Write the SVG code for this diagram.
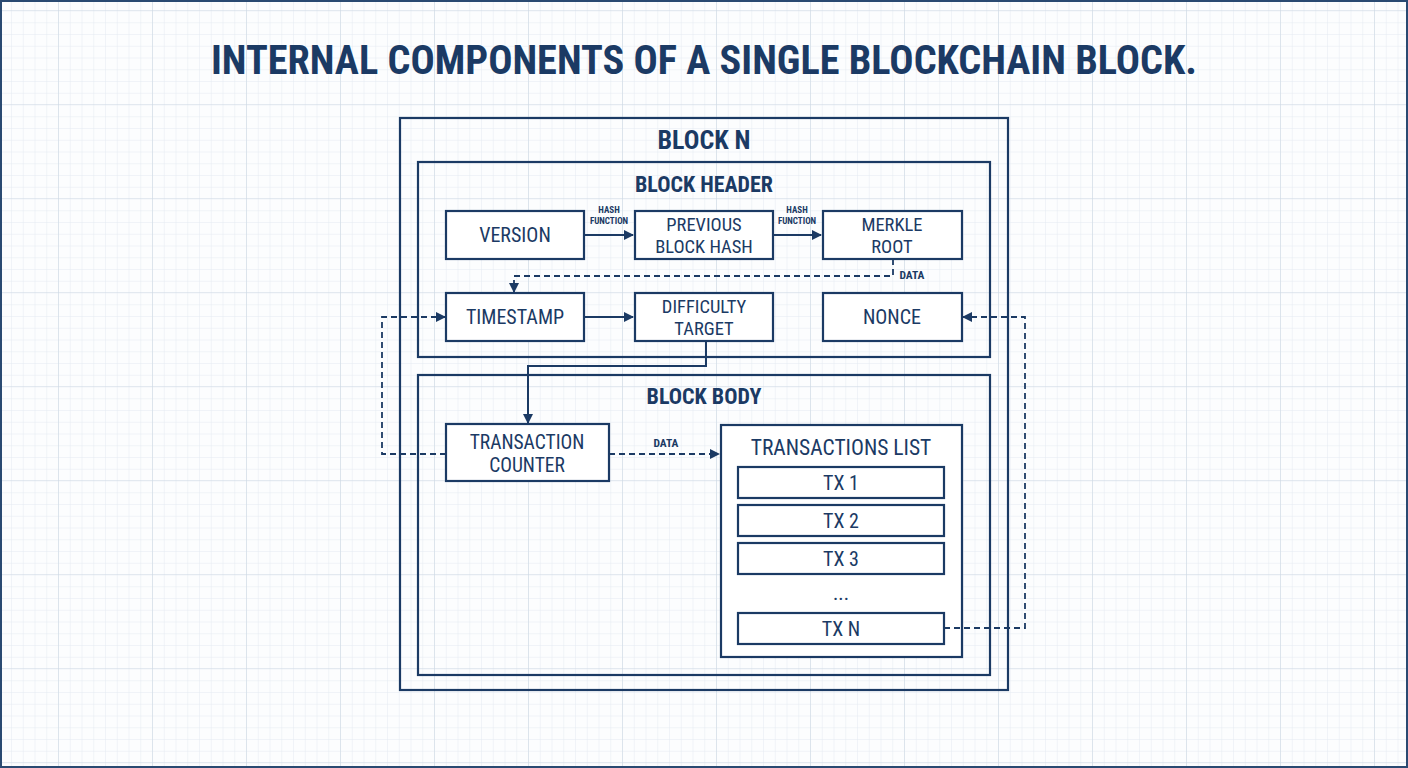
<svg xmlns="http://www.w3.org/2000/svg" width="1408" height="768" viewBox="0 0 1408 768">
<defs>
<pattern id="minor" width="11.75" height="11.75" patternUnits="userSpaceOnUse" x="-35" y="-12">
<path d="M11.75 0V11.75H0" fill="none" stroke="#e3eaf1" stroke-width="1"/>
</pattern>
<pattern id="major" width="94" height="94" patternUnits="userSpaceOnUse" x="-35" y="11">
<path d="M94 0V94H0" fill="none" stroke="#cfdae5" stroke-width="1.2"/>
</pattern>
<marker id="ah" viewBox="0 0 10 10" refX="9" refY="5" markerWidth="10" markerHeight="10" markerUnits="userSpaceOnUse" orient="auto">
<path d="M0 0L10 5L0 10Z" fill="#1b3a64"/>
</marker>
<style>
.box{fill:#fff;stroke:#1b3a64;stroke-width:2.2}
.frame{fill:none;stroke:#1b3a64;stroke-width:2.2}
.lbl{font-family:"Liberation Sans Narrow","Roboto Condensed","Liberation Sans",sans-serif;font-size:20px;fill:#1b3a64;text-anchor:middle}
.two{font-size:18.5px}
.hd{font-family:"Liberation Sans Narrow","Roboto Condensed","Liberation Sans",sans-serif;font-weight:bold;fill:#1b3a64;text-anchor:middle}
.sm{font-family:"Liberation Sans Narrow","Roboto Condensed","Liberation Sans",sans-serif;font-weight:bold;font-size:9px;fill:#1b3a64;text-anchor:middle}
.dl{font-family:"Liberation Sans Narrow","Roboto Condensed","Liberation Sans",sans-serif;font-weight:bold;font-size:11.5px;fill:#1b3a64;text-anchor:middle}
.c{fill:none;stroke:#1b3a64;stroke-width:2}
.d{fill:none;stroke:#1b3a64;stroke-width:1.8;stroke-dasharray:6 4}
</style>
</defs>
<rect width="1408" height="768" fill="#fcfdfe"/>
<rect width="1408" height="768" fill="url(#minor)"/>
<rect width="1408" height="768" fill="url(#major)"/>
<rect x="1" y="1" width="1406" height="766" fill="none" stroke="#2a4a72" stroke-width="2"/>
<text x="704" y="74" class="hd" font-size="40" textLength="986" lengthAdjust="spacingAndGlyphs">INTERNAL COMPONENTS OF A SINGLE BLOCKCHAIN BLOCK.</text>

<g id="block-n">
<rect x="400" y="118" width="608" height="572" class="frame"/>
<text x="704" y="149" class="hd" font-size="26">BLOCK N</text>
</g>
<g id="block-header">
<rect x="418" y="162" width="572" height="195" class="frame"/>
<text x="704" y="192" class="hd" font-size="22">BLOCK HEADER</text>
</g>
<g id="block-body">
<rect x="418" y="375" width="572" height="300" class="frame"/>
<text x="704" y="404" class="hd" font-size="22">BLOCK BODY</text>
</g>
<g id="version">
<rect x="446" y="211" width="138" height="48" class="box"/>
<text x="515" y="242" class="lbl">VERSION</text>
</g>
<g id="prev-hash">
<rect x="635" y="211" width="138" height="48" class="box"/>
<text x="704" y="231" class="lbl two">PREVIOUS</text>
<text x="704" y="253" class="lbl two">BLOCK HASH</text>
</g>
<g id="merkle-root">
<rect x="823" y="211" width="139" height="48" class="box"/>
<text x="892" y="231" class="lbl two">MERKLE</text>
<text x="892" y="253" class="lbl two">ROOT</text>
</g>
<g id="timestamp">
<rect x="446" y="293" width="138" height="48" class="box"/>
<text x="515" y="324" class="lbl">TIMESTAMP</text>
</g>
<g id="difficulty">
<rect x="635" y="293" width="138" height="48" class="box"/>
<text x="704" y="313" class="lbl two">DIFFICULTY</text>
<text x="704" y="335" class="lbl two">TARGET</text>
</g>
<g id="nonce">
<rect x="823" y="293" width="139" height="48" class="box"/>
<text x="892" y="324" class="lbl">NONCE</text>
</g>
<g id="tx-counter">
<rect x="446" y="424" width="163" height="57" class="box"/>
<text x="527" y="449" class="lbl" style="font-size:19.5px">TRANSACTION</text>
<text x="527" y="472" class="lbl" style="font-size:19.5px">COUNTER</text>
</g>
<g id="tx-list">
<rect x="721" y="425" width="241" height="232" class="box"/>
<text x="841" y="455" class="lbl" style="font-size:21.5px">TRANSACTIONS LIST</text>
</g>
<g id="tx1">
<rect x="738" y="467" width="206" height="31" class="box"/>
<text x="841" y="490" class="lbl">TX 1</text>
</g>
<g id="tx2">
<rect x="738" y="505" width="206" height="31" class="box"/>
<text x="841" y="528" class="lbl">TX 2</text>
</g>
<g id="tx3">
<rect x="738" y="543" width="206" height="31" class="box"/>
<text x="841" y="566" class="lbl">TX 3</text>
</g>
<g id="ellipsis">
<text x="841" y="600" class="lbl">...</text>
</g>
<g id="txn">
<rect x="738" y="613" width="206" height="31" class="box"/>
<text x="841" y="636" class="lbl">TX N</text>
</g>

<g id="connectors">
<line x1="584" y1="235" x2="633" y2="235" class="c" marker-end="url(#ah)"/>
<text x="609" y="213" class="sm">HASH</text>
<text x="609" y="224" class="sm">FUNCTION</text>
<line x1="773" y1="235" x2="821" y2="235" class="c" marker-end="url(#ah)"/>
<text x="797" y="213" class="sm">HASH</text>
<text x="797" y="224" class="sm">FUNCTION</text>
<polyline points="893,259 893,276 514,276 514,292" class="d" marker-end="url(#ah)"/>
<text x="912" y="279" class="dl">DATA</text>
<line x1="584" y1="317" x2="633" y2="317" class="c" marker-end="url(#ah)"/>
<polyline points="706,341 706,366 528,366 528,423" class="c" marker-end="url(#ah)"/>
<polyline points="446,454 382,454 382,317 445,317" class="d" marker-end="url(#ah)"/>
<line x1="609" y1="454" x2="719" y2="454" class="d" marker-end="url(#ah)"/>
<text x="666" y="447" class="dl">DATA</text>
<polyline points="944,628 1025,628 1025,317 963,317" class="d" marker-end="url(#ah)"/>
</g>
</svg>
